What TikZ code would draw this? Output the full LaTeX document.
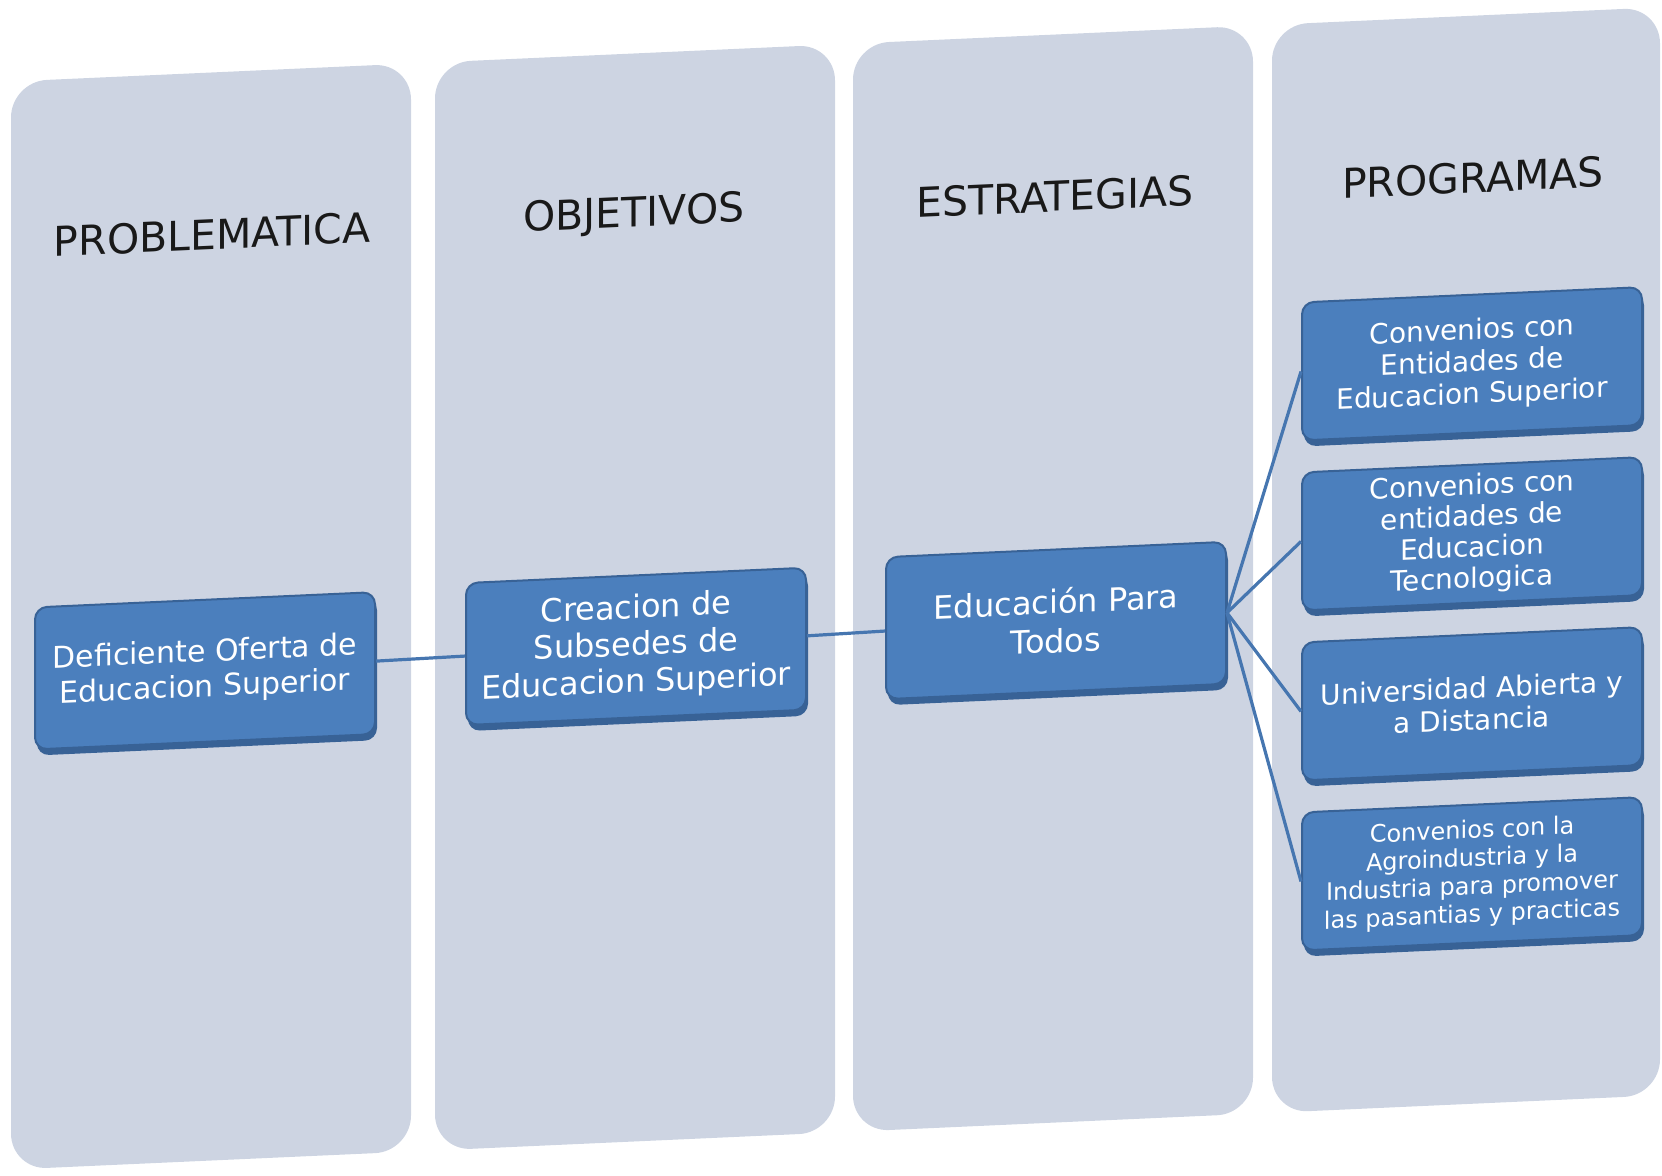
\documentclass[tikz,border=0pt]{standalone}
\usepackage{fontspec}
\setmainfont{DejaVu Sans}
\usetikzlibrary{positioning,shadows}

\definecolor{colbg}{RGB}{205,212,226}
\definecolor{boxfill}{RGB}{75,127,189}
\definecolor{boxedge}{RGB}{56,98,150}
\definecolor{linkblue}{RGB}{70,118,176}

\begin{document}
\begin{tikzpicture}[
  x=0.5pt, y=-0.5pt,
  node distance=15pt,
  column/.style={fill=colbg, rounded corners=18pt, minimum width=200pt, minimum height=544pt},
  head/.style={font=\fontsize{20.5}{23}\selectfont, text=black!90},
  box/.style={fill=boxfill, draw=boxedge, line width=1pt, rounded corners=6pt, text=white,
    align=center, minimum width=170pt, minimum height=71pt, inner sep=2pt,
    general shadow={fill=boxedge, shadow xshift=1pt, shadow yshift=-3pt}},
  link/.style={draw=linkblue, line width=1.6pt}
]
\useasboundingbox (0,0) rectangle (1662,1175);
\begin{scope}[yslant=0.045, transform shape]
% columns
\node[column] (colprob) at (211,626) {};
\node[column] (colobj) at (635,626) {};
\node[column] (colest) at (1053,626) {};
\node[column, minimum width=194pt] (colprog) at (1466,626) {};
% headings
\node[head] (hprob) at (212,244) {PROBLEMATICA};
\node[head] (hobj) at (634,244) {OBJETIVOS};
\node[head] (hest) at (1055,244) {ESTRATEGIAS};
\node[head] (hprog) at (1473,244) {PROGRAMAS};
% boxes
\node[box, font=\fontsize{15}{17.5}\selectfont] (deficiente) at (205,680) {Deficiente Oferta de\\Educacion Superior};
\node[box, font=\fontsize{16}{18.5}\selectfont] (creacion) at (636,675) {Creacion de\\Subsedes de\\Educacion Superior};
\node[box, font=\fontsize{16}{19.5}\selectfont] (paratodos) at (1056,668) {Educación Para\\Todos};
\node[box, font=\fontsize{14}{16}\selectfont, minimum height=69pt] (superior) at (1472,430) {Convenios con\\Entidades de\\Educacion Superior};
\node[box, font=\fontsize{14}{15.5}\selectfont, minimum height=69pt, below=of superior] (tecnologica) {Convenios con\\entidades de\\Educacion\\Tecnologica};
\node[box, font=\fontsize{14}{16}\selectfont, minimum height=69pt, below=of tecnologica] (abierta) {Universidad Abierta y\\a Distancia};
\node[box, font=\fontsize{12}{14}\selectfont, minimum height=69pt, below=of abierta] (pasantias) {Convenios con la\\Agroindustria y la\\Industria para promover\\las pasantias y practicas};
% links
\draw[link] (deficiente) -- (creacion);
\draw[link] (creacion) -- (paratodos);
\draw[link] (paratodos.east) -- (superior.west);
\draw[link] (paratodos.east) -- (tecnologica.west);
\draw[link] (paratodos.east) -- (abierta.west);
\draw[link] (paratodos.east) -- (pasantias.west);
\end{scope}
\end{tikzpicture}
\end{document}
